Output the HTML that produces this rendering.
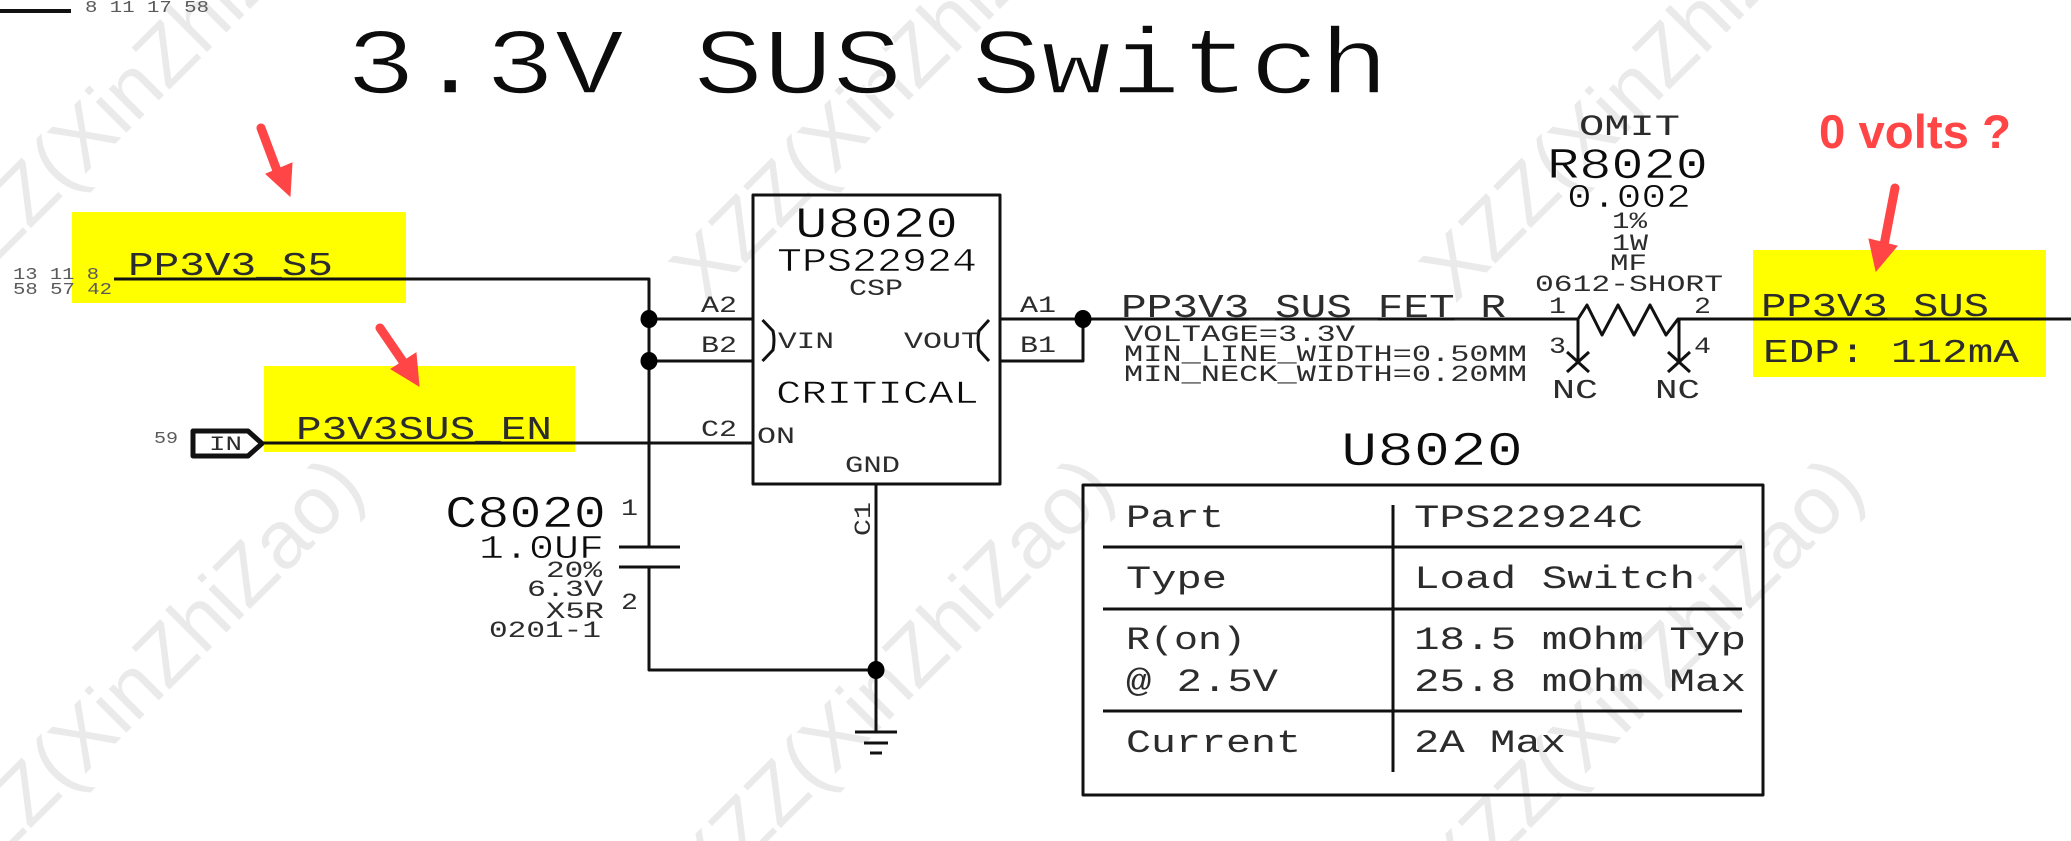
<!DOCTYPE html>
<html><head><meta charset="utf-8"><title>3.3V SUS Switch</title>
<style>
html,body{margin:0;padding:0;background:#fff;width:2071px;height:841px;overflow:hidden}
svg{display:block}
.t{font-family:"Liberation Mono",monospace;fill:#2c2c2c}
.g{fill:#5a5a5a}
.h{fill:#0c0c0c;stroke:#fff;stroke-width:.6px}
.w{font-family:"Liberation Sans",sans-serif;font-size:82px;fill:#eaeaea}
.l{fill:none;stroke:#111;stroke-width:3;stroke-linejoin:round}
</style></head><body>
<svg xmlns="http://www.w3.org/2000/svg" width="2071" height="841" viewBox="0 0 2071 841">
<defs><clipPath id="c"><rect width="2071" height="841"/></clipPath></defs>
<rect width="2071" height="841" fill="#fff"/>
<g clip-path="url(#c)">
<!-- watermark -->
<g class="w">
<text transform="translate(-45 304) rotate(-45)">XZZ(XinZhiZao)</text>
<text transform="translate(705 304) rotate(-45)">XZZ(XinZhiZao)</text>
<text transform="translate(1455 304) rotate(-45)">XZZ(XinZhiZao)</text>
<text transform="translate(-45 904) rotate(-45)">XZZ(XinZhiZao)</text>
<text transform="translate(705 904) rotate(-45)">XZZ(XinZhiZao)</text>
<text transform="translate(1455 904) rotate(-45)">XZZ(XinZhiZao)</text>
</g>
<!-- highlights -->
<rect x="72" y="212" width="334" height="91" fill="#ffff00"/>
<rect x="264" y="366" width="311" height="86" fill="#ffff00"/>
<rect x="1753" y="250" width="293" height="127" fill="#ffff00"/>
<!-- wires -->
<g class="l">
<path d="M0 11H71" stroke-width="4"/>
<path d="M114 279H649V547"/>
<path d="M649 319H753M649 361H753M262 443H753"/>
<rect x="753" y="195" width="247" height="289"/>
<path d="M1000 319H1578M1000 361H1083V319"/>
<path d="M1578 362V319L1587 305L1602 335L1618 305L1634 335L1650 305L1666 335L1678 319H2071M1679 319V362"/>
<path d="M1567 352L1589 372M1589 352L1567 372M1668 352L1690 372M1690 352L1668 372"/>
<path d="M762.500 320L773 331Q775 340 773 350L762.500 361M989 320L979 331Q977 340 979 350L989 361"/>
<path d="M619 547H680M619 567H680M649 567V670H876M876 484V732"/>
<path d="M855 732H897M864 743H888M870 753H882"/>
<path d="M193 431H248L262 443.500L248 456H193Z" stroke-width="5"/>
<rect x="1083" y="485" width="680" height="310"/>
<path d="M1393 505V772M1103 547H1742M1103 609H1742M1103 711H1742"/>
</g>
<g fill="#000">
<ellipse cx="649" cy="319" rx="8.500" ry="9"/>
<ellipse cx="649" cy="361" rx="8.500" ry="9"/>
<ellipse cx="1083" cy="319" rx="8.500" ry="9"/>
<ellipse cx="876" cy="670" rx="8.500" ry="9"/>
</g>
<!-- text -->
<g class="t">
<text class="h" style="stroke-width:1.6px" x="346" y="93" font-size="94" textLength="1043" lengthAdjust="spacingAndGlyphs">3.3V SUS Switch</text>
<text class="g" x="85" y="12" font-size="17" textLength="124" lengthAdjust="spacingAndGlyphs">8 11 17 58</text>
<text class="g" x="13" y="279" font-size="17" textLength="86" lengthAdjust="spacingAndGlyphs">13 11 8</text>
<text class="g" x="13" y="294" font-size="17" textLength="99" lengthAdjust="spacingAndGlyphs">58 57 42</text>
<text class="g" x="154" y="443" font-size="17" textLength="24" lengthAdjust="spacingAndGlyphs">59</text>
<text x="128" y="275" font-size="33" textLength="205" lengthAdjust="spacingAndGlyphs">PP3V3_S5</text>
<text x="296" y="439" font-size="33" textLength="256" lengthAdjust="spacingAndGlyphs">P3V3SUS_EN</text>
<text x="209" y="450" font-size="20" textLength="33" lengthAdjust="spacingAndGlyphs">IN</text>
<text class="h" x="795" y="237" font-size="44" textLength="163" lengthAdjust="spacingAndGlyphs">U8020</text>
<text class="h" x="777" y="271" font-size="33" textLength="200" lengthAdjust="spacingAndGlyphs">TPS22924</text>
<text x="849" y="295" font-size="23" textLength="54" lengthAdjust="spacingAndGlyphs">CSP</text>
<text x="701" y="312" font-size="23" textLength="36" lengthAdjust="spacingAndGlyphs">A2</text>
<text x="701" y="352" font-size="23" textLength="36" lengthAdjust="spacingAndGlyphs">B2</text>
<text x="701" y="436" font-size="23" textLength="36" lengthAdjust="spacingAndGlyphs">C2</text>
<text x="778" y="348" font-size="23" textLength="56" lengthAdjust="spacingAndGlyphs">VIN</text>
<text x="904" y="348" font-size="23" textLength="76" lengthAdjust="spacingAndGlyphs">VOUT</text>
<text x="757" y="443" font-size="23" textLength="38" lengthAdjust="spacingAndGlyphs">ON</text>
<text class="h" x="776" y="403" font-size="32" textLength="203" lengthAdjust="spacingAndGlyphs">CRITICAL</text>
<text x="845" y="472" font-size="23" textLength="55" lengthAdjust="spacingAndGlyphs">GND</text>
<text x="1020" y="312" font-size="23" textLength="36" lengthAdjust="spacingAndGlyphs">A1</text>
<text x="1020" y="352" font-size="23" textLength="36" lengthAdjust="spacingAndGlyphs">B1</text>
<text transform="translate(870 536) rotate(-90)" font-size="23" textLength="34" lengthAdjust="spacingAndGlyphs">C1</text>
<text x="1121" y="317" font-size="33" textLength="385" lengthAdjust="spacingAndGlyphs">PP3V3_SUS_FET_R</text>
<text x="1124" y="341" font-size="23" textLength="231" lengthAdjust="spacingAndGlyphs">VOLTAGE=3.3V</text>
<text x="1124" y="361" font-size="23" textLength="403" lengthAdjust="spacingAndGlyphs">MIN_LINE_WIDTH=0.50MM</text>
<text x="1124" y="381" font-size="23" textLength="403" lengthAdjust="spacingAndGlyphs">MIN_NECK_WIDTH=0.20MM</text>
<text x="1579" y="135" font-size="30" textLength="101" lengthAdjust="spacingAndGlyphs">OMIT</text>
<text class="h" x="1547" y="178" font-size="44" textLength="161" lengthAdjust="spacingAndGlyphs">R8020</text>
<text class="h" x="1567" y="207" font-size="33" textLength="124" lengthAdjust="spacingAndGlyphs">0.002</text>
<text x="1612" y="228" font-size="23" textLength="35" lengthAdjust="spacingAndGlyphs">1%</text>
<text x="1612" y="250" font-size="23" textLength="36" lengthAdjust="spacingAndGlyphs">1W</text>
<text x="1610" y="270" font-size="23" textLength="37" lengthAdjust="spacingAndGlyphs">MF</text>
<text x="1535" y="291" font-size="23" textLength="188" lengthAdjust="spacingAndGlyphs">0612-SHORT</text>
<text x="1549" y="313" font-size="23" textLength="17" lengthAdjust="spacingAndGlyphs">1</text>
<text x="1694" y="313" font-size="23" textLength="17" lengthAdjust="spacingAndGlyphs">2</text>
<text x="1549" y="353" font-size="23" textLength="17" lengthAdjust="spacingAndGlyphs">3</text>
<text x="1694" y="353" font-size="23" textLength="17" lengthAdjust="spacingAndGlyphs">4</text>
<text x="1552" y="398" font-size="27" textLength="46" lengthAdjust="spacingAndGlyphs">NC</text>
<text x="1655" y="398" font-size="27" textLength="45" lengthAdjust="spacingAndGlyphs">NC</text>
<text x="1761" y="316" font-size="33" textLength="228" lengthAdjust="spacingAndGlyphs">PP3V3_SUS</text>
<text x="1763" y="362" font-size="33" textLength="256" lengthAdjust="spacingAndGlyphs">EDP: 112mA</text>
<text class="h" x="1341" y="465" font-size="48" textLength="182" lengthAdjust="spacingAndGlyphs">U8020</text>
<text x="1126" y="527" font-size="32" textLength="98" lengthAdjust="spacingAndGlyphs">Part</text>
<text x="1414" y="527" font-size="32" textLength="229" lengthAdjust="spacingAndGlyphs">TPS22924C</text>
<text x="1126" y="588" font-size="32" textLength="101" lengthAdjust="spacingAndGlyphs">Type</text>
<text x="1414" y="588" font-size="32" textLength="281" lengthAdjust="spacingAndGlyphs">Load Switch</text>
<text x="1126" y="649" font-size="32" textLength="120" lengthAdjust="spacingAndGlyphs">R(on)</text>
<text x="1414" y="649" font-size="32" textLength="332" lengthAdjust="spacingAndGlyphs">18.5 mOhm Typ</text>
<text x="1126" y="691" font-size="32" textLength="152" lengthAdjust="spacingAndGlyphs">@ 2.5V</text>
<text x="1414" y="691" font-size="32" textLength="332" lengthAdjust="spacingAndGlyphs">25.8 mOhm Max</text>
<text x="1126" y="752" font-size="32" textLength="175" lengthAdjust="spacingAndGlyphs">Current</text>
<text x="1414" y="752" font-size="32" textLength="152" lengthAdjust="spacingAndGlyphs">2A Max</text>
<text class="h" x="445" y="527" font-size="45" textLength="161" lengthAdjust="spacingAndGlyphs">C8020</text>
<text class="h" x="479" y="558" font-size="33" textLength="125" lengthAdjust="spacingAndGlyphs">1.0UF</text>
<text x="546" y="577" font-size="23" textLength="56" lengthAdjust="spacingAndGlyphs">20%</text>
<text x="527" y="596" font-size="23" textLength="76" lengthAdjust="spacingAndGlyphs">6.3V</text>
<text x="546" y="618" font-size="23" textLength="58" lengthAdjust="spacingAndGlyphs">X5R</text>
<text x="489" y="637" font-size="23" textLength="112" lengthAdjust="spacingAndGlyphs">0201-1</text>
<text x="621" y="515" font-size="23" textLength="17" lengthAdjust="spacingAndGlyphs">1</text>
<text x="621" y="609" font-size="23" textLength="17" lengthAdjust="spacingAndGlyphs">2</text>
</g>
<!-- red annotations -->
<g fill="#ff4545" stroke="#ff4545">
<path d="M261 128L279 176" stroke-width="9" stroke-linecap="round" fill="none"/>
<path d="M266 174L292 163L290 196Z" stroke-width="1"/>
<path d="M380 328L406 366" stroke-width="9" stroke-linecap="round" fill="none"/>
<path d="M391 369L416 353L419 386Z" stroke-width="1"/>
<path d="M1895 188L1884 245" stroke-width="9" stroke-linecap="round" fill="none"/>
<path d="M1869 239L1897 246L1876 271Z" stroke-width="1"/>
<text x="1819" y="148" stroke="none" font-family="'Liberation Sans',sans-serif" font-weight="700" font-size="47" textLength="192" lengthAdjust="spacingAndGlyphs">0 volts ?</text>
</g>
</g>
</svg>
</body></html>
